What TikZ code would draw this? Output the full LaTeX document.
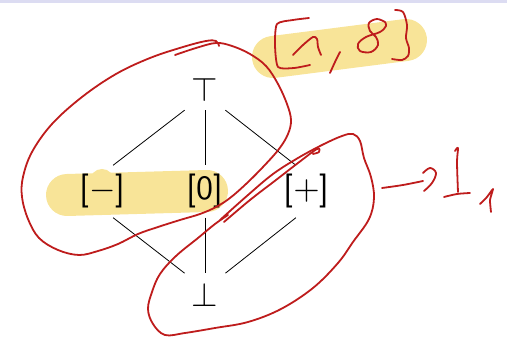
\documentclass[tikz,border=0pt]{standalone}
\definecolor{penred}{RGB}{190,28,28}
\definecolor{marker}{RGB}{248,228,152}
\definecolor{barblue}{RGB}{220,220,242}
\newcommand{\latsize}[1]{\scalebox{3.4}{#1}}
\tikzset{
  pen/.style={draw=penred, line width=1.8pt, line cap=round, line join=round},
  marker stroke/.style={draw=marker, line width=42pt, line cap=round},
  elem/.style={font=\sffamily, text height=25.5pt, text depth=8.5pt, inner xsep=4pt, inner ysep=9pt},
  bound/.style={inner xsep=7pt, inner ysep=8pt},
  edge/.style={draw=black, line width=0.8pt},
}
\begin{document}
\begin{tikzpicture}[x=1pt,y=-1pt]
\useasboundingbox (0,0) rectangle (507,344);
\fill[barblue] (0,0) rectangle (507,3);

% highlighter marks
\draw[marker stroke] (273,57) -- (406,40);
\draw[marker stroke] (67,195) -- (207,191);
\fill[marker] (102,181) circle (12);

% lattice elements
\node[bound, anchor=base] (top) at (205,102) {\latsize{$\top$}};
\node[elem, anchor=base] (minus) at (102.5,200) {\latsize{[$-$]}};
\node[elem, anchor=base] (zero) at (205,200) {\latsize{[0]}};
\node[elem, anchor=base] (plus) at (306.5,200) {\latsize{[$+$]}};
\node[bound, anchor=base, inner ysep=10pt] (bot) at (205,307) {\latsize{$\bot$}};

% order relations
\draw[edge] (top.south west) -- (minus.68);
\draw[edge] (top.south) -- (zero.north);
\draw[edge] (top.south east) -- (plus.112);
\draw[edge] (minus.-68) -- (bot.north west);
\draw[edge] (zero.south) -- (bot.north);
\draw[edge] (plus.-112) -- (bot.north east);

% handwritten loop around top, [-], [0]
\draw[pen] plot[smooth, tension=0.6] coordinates {(175,55) (196,48) (216,43) (232,46) (250,54) (266,66) (278,84) (287,104) (291,120) (288,134) (279,149) (263,167) (246,184) (230,198) (216,207) (200,214) (180,220) (158,227) (138,234) (118,244) (98,251) (79,255) (58,250) (39,238) (28,219) (22,197) (23,177) (32,152) (52,124) (82,97) (116,74) (150,58) (183,47) (206,41) (216,41) (219,46)};

% handwritten loop around [0], [+], bottom
\draw[pen] plot[smooth, tension=0.6] coordinates {(220,220) (248,195) (273,174) (298,158) (322,145) (342,136) (353,134) (360,141) (364,158) (371,177) (374,198) (369,219) (353,242) (338,263) (313,288) (281,309) (248,322) (215,328) (185,333) (165,335) (153,324) (148,309) (152,292) (160,274) (176,256) (198,238) (215,224) (228,215)};
\draw[pen] plot[smooth, tension=0.6] coordinates {(224,222) (250,200) (276,180) (298,163) (317,149) (319,152) (313,154)};

% handwritten [1,8]
\draw[pen] plot[smooth, tension=0.4] coordinates {(309,18) (293,20) (277,24) (275,45) (278,67) (294,68) (310,65)};
\draw[pen] plot[smooth, tension=0.5] coordinates {(293,55) (303,45) (313,37) (317,39) (318,47) (321,55)};
\draw[pen] plot[smooth, tension=0.5] coordinates {(340,52) (335,62) (330,73)};
\draw[pen] plot[smooth, tension=0.6] coordinates {(385,22) (377,19) (369,23) (370,31) (376,37) (378,45) (371,52) (360,51) (358,44) (366,37) (380,32) (386,26) (385,22)};
\draw[pen] plot[smooth, tension=0.5] coordinates {(395,10) (403,12) (407,25) (406,38) (409,48) (408,56) (402,60) (392,59)};

% handwritten arrow and I_1
\draw[pen] plot[smooth, tension=0.5] coordinates {(382,188) (403,185) (423,181)};
\draw[pen] plot[smooth, tension=0.6] coordinates {(423,173) (430,168) (436,173) (432,183) (424,191)};
\draw[pen] plot[smooth, tension=0.5] coordinates {(455,151) (458,148) (457,162) (458,192)};
\draw[pen] plot[smooth, tension=0.5] coordinates {(444,197) (457,194) (470,193)};
\draw[pen] plot[smooth, tension=0.3] coordinates {(480,204) (487,197) (493,189) (490,200) (491,212)};
\end{tikzpicture}
\end{document}
